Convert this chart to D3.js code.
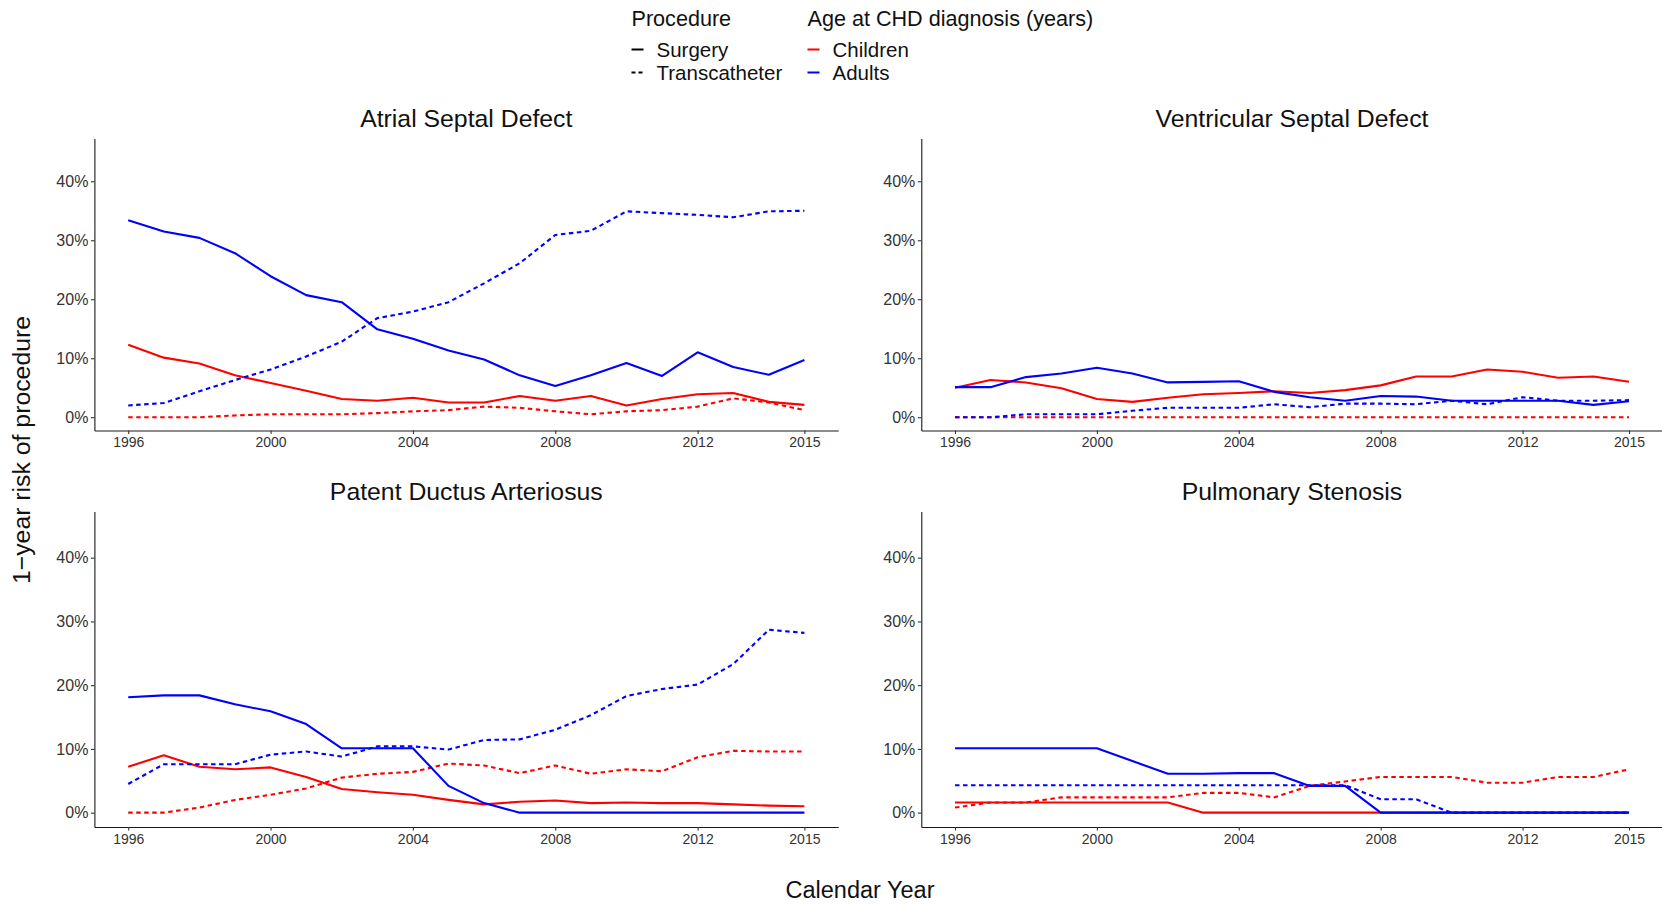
<!DOCTYPE html>
<html>
<head>
<meta charset="utf-8">
<script src="https://cdn.jsdelivr.net/npm/d3@7"></script>
<style>
  html, body { margin: 0; padding: 0; background: #fff; }
  svg text { font-family: "Liberation Sans", Arial, sans-serif; }
</style>
</head>
<body>
<svg id="chart" width="1662" height="904"></svg>
<script>
// ---- Data: 1-year risk of procedure (%), by calendar year ----
const years = [1996, 1997, 1998, 1999, 2000, 2001, 2002, 2003, 2004, 2005,
               2006, 2007, 2008, 2009, 2010, 2011, 2012, 2013, 2014, 2015];

const xTicks = [1996, 2000, 2004, 2008, 2012, 2015];
const yTicks = [0, 10, 20, 30, 40];

const panelTitles = ["Atrial Septal Defect", "Ventricular Septal Defect",
                     "Patent Ductus Arteriosus", "Pulmonary Stenosis"];

// Atrial Septal Defect
const asdChildrenSurgery  = [12.3, 10.1, 9.1, 7.1, 5.8, 4.5, 3.1, 2.8, 3.3, 2.5, 2.5, 3.6, 2.8, 3.6, 2.0, 3.1, 3.9, 4.1, 2.6, 2.1];
const asdChildrenTranscat = [0.0, 0.0, 0.0, 0.3, 0.5, 0.5, 0.5, 0.7, 1.0, 1.2, 1.8, 1.6, 1.0, 0.5, 1.0, 1.2, 1.8, 3.2, 2.5, 1.2];
const asdAdultsSurgery    = [33.4, 31.5, 30.4, 27.8, 23.9, 20.7, 19.5, 14.9, 13.3, 11.3, 9.8, 7.1, 5.3, 7.1, 9.2, 7.0, 11.0, 8.5, 7.2, 9.7];
const asdAdultsTranscat   = [2.0, 2.4, 4.4, 6.3, 8.1, 10.3, 12.8, 16.8, 17.9, 19.5, 22.7, 26.1, 30.9, 31.6, 34.9, 34.6, 34.3, 33.9, 34.9, 35.0];

// Ventricular Septal Defect
const vsdChildrenSurgery  = [5.0, 6.3, 5.9, 4.9, 3.1, 2.6, 3.3, 3.9, 4.1, 4.4, 4.1, 4.6, 5.4, 6.9, 6.9, 8.1, 7.7, 6.7, 6.9, 6.0];
const vsdChildrenTranscat = [0, 0, 0, 0, 0, 0, 0, 0, 0, 0, 0, 0, 0, 0, 0, 0, 0, 0, 0, 0];
const vsdAdultsSurgery    = [5.1, 5.1, 6.8, 7.4, 8.4, 7.4, 5.9, 6.0, 6.1, 4.3, 3.4, 2.8, 3.6, 3.5, 2.8, 2.8, 2.8, 2.8, 2.1, 2.7];
const vsdAdultsTranscat   = [0.0, 0.0, 0.5, 0.5, 0.5, 1.1, 1.6, 1.6, 1.6, 2.2, 1.7, 2.3, 2.3, 2.2, 2.8, 2.2, 3.4, 2.8, 2.8, 2.9];

// Patent Ductus Arteriosus
const pdaChildrenSurgery  = [7.2, 9.0, 7.2, 6.8, 7.1, 5.6, 3.7, 3.2, 2.8, 2.0, 1.3, 1.7, 1.9, 1.5, 1.6, 1.5, 1.5, 1.3, 1.1, 1.0];
const pdaChildrenTranscat = [0.0, 0.0, 0.8, 2.0, 2.8, 3.8, 5.5, 6.1, 6.4, 7.7, 7.4, 6.2, 7.4, 6.1, 6.8, 6.5, 8.7, 9.7, 9.6, 9.6];
const pdaAdultsSurgery    = [18.1, 18.4, 18.4, 17.0, 15.9, 13.9, 10.1, 10.1, 10.1, 4.2, 1.5, 0, 0, 0, 0, 0, 0, 0, 0, 0];
const pdaAdultsTranscat   = [4.5, 7.6, 7.6, 7.6, 9.1, 9.6, 8.8, 10.4, 10.4, 9.9, 11.4, 11.5, 13.0, 15.3, 18.3, 19.4, 20.1, 23.3, 28.7, 28.2];

// Pulmonary Stenosis
const psChildrenSurgery   = [1.6, 1.6, 1.6, 1.6, 1.6, 1.6, 1.6, 0, 0, 0, 0, 0, 0, 0, 0, 0, 0, 0, 0, 0];
const psChildrenTranscat  = [0.8, 1.6, 1.6, 2.4, 2.4, 2.4, 2.4, 3.1, 3.1, 2.4, 4.2, 4.9, 5.6, 5.6, 5.6, 4.7, 4.7, 5.6, 5.6, 6.8];
const psAdultsSurgery     = [10.1, 10.1, 10.1, 10.1, 10.1, 8.1, 6.1, 6.1, 6.2, 6.2, 4.2, 4.2, 0, 0, 0, 0, 0, 0, 0, 0];
const psAdultsTranscat    = [4.3, 4.3, 4.3, 4.3, 4.3, 4.3, 4.3, 4.3, 4.3, 4.3, 4.3, 4.3, 2.1, 2.1, 0, 0, 0, 0, 0, 0];

const procedureLabels = ["Surgery", "Transcatheter"];
const ageLabels = ["Children", "Adults"];

// ---- Styling ----
const ageColor = { Children: "#FF0000", Adults: "#0000FF" };
const procDash = { Surgery: null, Transcatheter: "4.5,3.5" };
const LINE_W = 2.1;

// Panel frames (plot area in page pixels)
const frames = [
  { x0: 94.4, x1: 838.2, y0: 138.5, y1: 430.5 },
  { x0: 921.3, x1: 1662.7, y0: 138.5, y1: 430.5 },
  { x0: 94.4, x1: 838.2, y0: 511.5, y1: 827 },
  { x0: 921.3, x1: 1662.7, y0: 511.5, y1: 827 }
];

const panelSeries = [
  [
    { age: "Children", proc: "Transcatheter", values: asdChildrenTranscat },
    { age: "Children", proc: "Surgery", values: asdChildrenSurgery },
    { age: "Adults", proc: "Transcatheter", values: asdAdultsTranscat },
    { age: "Adults", proc: "Surgery", values: asdAdultsSurgery }
  ],
  [
    { age: "Children", proc: "Transcatheter", values: vsdChildrenTranscat },
    { age: "Children", proc: "Surgery", values: vsdChildrenSurgery },
    { age: "Adults", proc: "Transcatheter", values: vsdAdultsTranscat },
    { age: "Adults", proc: "Surgery", values: vsdAdultsSurgery }
  ],
  [
    { age: "Children", proc: "Transcatheter", values: pdaChildrenTranscat },
    { age: "Children", proc: "Surgery", values: pdaChildrenSurgery },
    { age: "Adults", proc: "Transcatheter", values: pdaAdultsTranscat },
    { age: "Adults", proc: "Surgery", values: pdaAdultsSurgery }
  ],
  [
    { age: "Children", proc: "Transcatheter", values: psChildrenTranscat },
    { age: "Children", proc: "Surgery", values: psChildrenSurgery },
    { age: "Adults", proc: "Transcatheter", values: psAdultsTranscat },
    { age: "Adults", proc: "Surgery", values: psAdultsSurgery }
  ]
];

const svg = d3.select("#chart");

// ---- Panels ----
frames.forEach((f, i) => {
  const x = d3.scaleLinear().domain([1995.05, 2015.95]).range([f.x0, f.x1]);
  const y = d3.scaleLinear().domain([-2.25, 47.25]).range([f.y1, f.y0]);
  const g = svg.append("g");

  // series lines
  const line = d3.line()
    .x((d, k) => x(years[k]))
    .y(d => y(d));

  panelSeries[i].forEach(s => {
    g.append("path")
      .datum(s.values)
      .attr("d", line)
      .attr("fill", "none")
      .attr("stroke", ageColor[s.age])
      .attr("stroke-width", LINE_W)
      .attr("stroke-linejoin", "round")
      .attr("stroke-dasharray", procDash[s.proc]);
  });

  // axes
  const yAxis = d3.axisLeft(y)
    .tickValues(yTicks)
    .tickFormat(d => d + "%")
    .tickSizeInner(3.5)
    .tickSizeOuter(0)
    .tickPadding(2.5);
  const gy = g.append("g").attr("transform", `translate(${f.x0},0)`).call(yAxis);

  const xAxis = d3.axisBottom(x)
    .tickValues(xTicks)
    .tickFormat(d3.format("d"))
    .tickSizeInner(3.5)
    .tickSizeOuter(0)
    .tickPadding(3.5);
  const gx = g.append("g").attr("transform", `translate(0,${f.y1})`).call(xAxis);

  [gx, gy].forEach(ax => {
    ax.select(".domain").attr("stroke", "#1a1a1a").attr("stroke-width", 1.1);
    ax.selectAll(".tick line").attr("stroke", "#333").attr("stroke-width", 1.1);
    ax.selectAll("text").attr("fill", "#333").attr("font-family", "Liberation Sans, Arial, sans-serif");
  });
  gy.selectAll("text").attr("font-size", 16);
  gx.selectAll("text").attr("font-size", 14);

  // title
  svg.append("text")
    .attr("x", (f.x0 + f.x1) / 2)
    .attr("y", f.y0 - 11.5)
    .attr("text-anchor", "middle")
    .attr("font-size", 24.8)
    .attr("fill", "#111")
    .text(panelTitles[i]);
});

// ---- Axis titles ----
svg.append("text")
  .attr("transform", "translate(30,450) rotate(-90)")
  .attr("text-anchor", "middle")
  .attr("font-size", 24.8)
  .attr("fill", "#111")
  .text("1\u2212year risk of procedure");

svg.append("text")
  .attr("x", 860)
  .attr("y", 898)
  .attr("text-anchor", "middle")
  .attr("font-size", 23.5)
  .attr("fill", "#111")
  .text("Calendar Year");

// ---- Legend ----
const legend = svg.append("g").attr("fill", "#111");

function legendBlock(x, title, labels, styleFor) {
  const b = legend.append("g").attr("transform", `translate(${x},0)`);
  b.append("text").attr("x", 0).attr("y", 26).attr("font-size", 21.6).text(title);
  labels.forEach((lab, k) => {
    const cy = 49.5 + k * 23;
    const st = styleFor(lab);
    b.append("line")
      .attr("x1", 0).attr("x2", 12)
      .attr("y1", cy).attr("y2", cy)
      .attr("stroke", st.color)
      .attr("stroke-width", 2)
      .attr("stroke-dasharray", st.dash);
    b.append("text").attr("x", 25).attr("y", cy + 7).attr("font-size", 20.5).text(lab);
  });
}

legendBlock(631.5, "Procedure", procedureLabels,
  lab => ({ color: "#000", dash: lab === "Transcatheter" ? "4,3" : null }));
legendBlock(807.5, "Age at CHD diagnosis (years)", ageLabels,
  lab => ({ color: ageColor[lab], dash: null }));
</script>
</body>
</html>
